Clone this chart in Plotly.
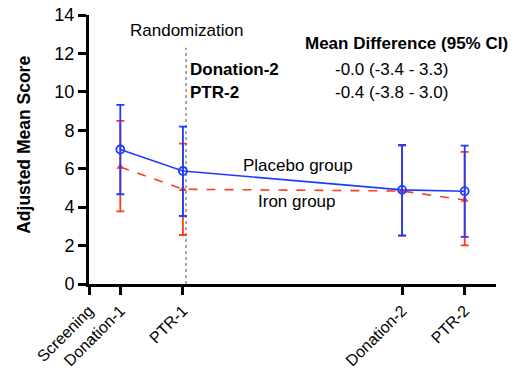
import plotly.graph_objects as go

visits = ["Screening", "Donation-1", "PTR-1", "Donation-2", "PTR-2"]
visit_pos = [0, 1, 3, 10, 12]

plot_x = [1, 3, 10, 12]
placebo_mean = [7.0, 5.88, 4.9, 4.83]
placebo_hi = [9.32, 8.19, 7.24, 7.2]
placebo_lo = [4.67, 3.54, 2.53, 2.45]

iron_mean = [6.09, 4.93, 4.84, 4.37]
iron_hi = [8.49, 7.31, 7.2, 6.88]
iron_lo = [3.78, 2.55, 2.5, 2.01]

rand_x = 3.1

BLUE = "#1E3CFF"
RED = "#FF3B1E"
FONT = "Liberation Sans, Arial, Helvetica, sans-serif"

fig = go.Figure()

fig.add_trace(go.Scatter(
    x=plot_x, y=iron_mean, mode="lines+markers",
    line=dict(color=RED, width=1.6, dash="dash"),
    marker=dict(symbol="triangle-up", size=7, color=RED),
    error_y=dict(type="data", symmetric=False,
                 array=[h - m for h, m in zip(iron_hi, iron_mean)],
                 arrayminus=[m - l for l, m in zip(iron_lo, iron_mean)],
                 color=RED, thickness=1.8, width=4),
    showlegend=False,
))
fig.add_trace(go.Scatter(
    x=plot_x, y=placebo_mean, mode="lines+markers",
    line=dict(color=BLUE, width=1.6),
    marker=dict(symbol="circle-open", size=8, color=BLUE, line=dict(width=1.8, color=BLUE)),
    error_y=dict(type="data", symmetric=False,
                 array=[h - m for h, m in zip(placebo_hi, placebo_mean)],
                 arrayminus=[m - l for l, m in zip(placebo_lo, placebo_mean)],
                 color=BLUE, thickness=1.8, width=4),
    showlegend=False,
))

fig.add_shape(type="line", xref="x", yref="y", x0=rand_x, x1=rand_x, y0=0, y1=12.3,
              line=dict(color="#777777", width=1.3, dash="dot"), layer="below")

ann = [
    dict(text="Randomization", x=rand_x, y=13.17, xanchor="center"),
    dict(text="<b>Mean Difference (95% CI)</b>", x=6.83, y=12.54, xanchor="left"),
    dict(text="<b>Donation-2</b>", x=3.16, y=11.14, xanchor="left"),
    dict(text="<b>PTR-2</b>", x=3.16, y=9.99, xanchor="left"),
    dict(text="-0.0 (-3.4 - 3.3)", x=7.79, y=11.14, xanchor="left"),
    dict(text="-0.4 (-3.8 - 3.0)", x=7.79, y=9.99, xanchor="left"),
    dict(text="Placebo group", x=6.68, y=6.19, xanchor="center"),
    dict(text="Iron group", x=6.64, y=4.27, xanchor="center"),
]
for a in ann:
    fig.add_annotation(text=a["text"], x=a["x"], y=a["y"], xref="x", yref="y",
                       xanchor=a["xanchor"], yanchor="middle", showarrow=False,
                       font=dict(family=FONT, size=17, color="black"))

fig.add_annotation(text="<b>Adjusted Mean Score</b>", xref="paper", yref="paper",
                   x=-0.16, y=0.517, textangle=-90, showarrow=False,
                   xanchor="center", yanchor="middle",
                   font=dict(family=FONT, size=17.5, color="black"))

fig.update_layout(
    width=522, height=370,
    margin=dict(l=89, r=26, t=15, b=86, autoexpand=False),
    plot_bgcolor="white", paper_bgcolor="white",
    font=dict(family=FONT, color="black"),
    xaxis=dict(range=[0, 13], tickmode="array", tickvals=visit_pos, ticktext=visits,
               tickangle=-45, ticks="outside", ticklen=8, tickwidth=3, tickcolor="black",
               showline=True, linewidth=3, linecolor="black", showgrid=False,
               zeroline=False, automargin=False,
               tickfont=dict(size=16, family=FONT, color="black")),
    yaxis=dict(range=[0, 14], tickmode="array", tickvals=list(range(0, 15, 2)),
               ticks="outside", ticklen=8, tickwidth=3, tickcolor="black",
               showline=True, linewidth=3, linecolor="black", showgrid=False,
               zeroline=False, automargin=False,
               tickfont=dict(size=18, family=FONT, color="black")),
)

fig.write_html("out.html", config={"displayModeBar": False},
               post_script="document.body.style.margin='0px';")
